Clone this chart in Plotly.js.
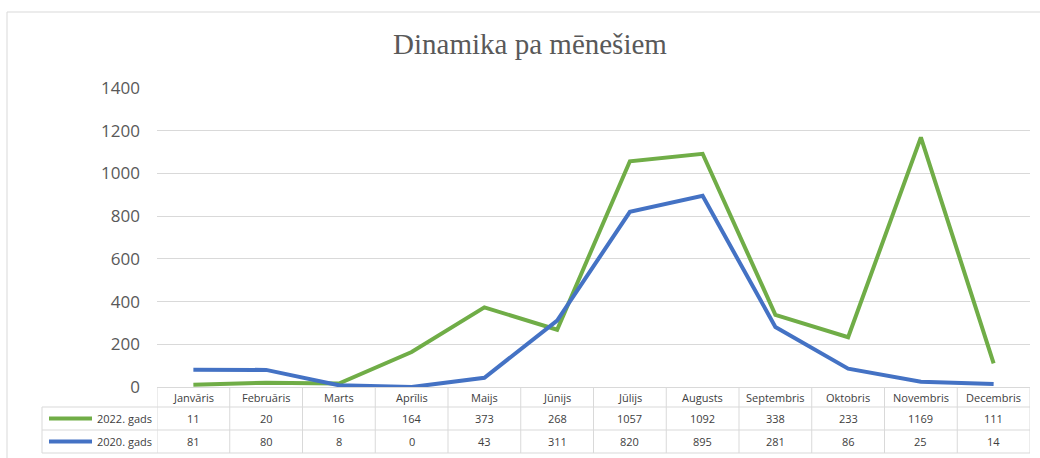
<!DOCTYPE html>
<html>
<head>
<meta charset="utf-8">
<script src="https://cdn.plot.ly/plotly-3.0.1.min.js"></script>
<style>
html,body{margin:0;padding:0;background:#fff;}
#chart{width:1040px;height:458px;}
</style>
</head>
<body>
<div id="chart"></div>
<script>
var categories = ['Janvāris','Februāris','Marts','Aprīlis','Maijs','Jūnijs','Jūlijs','Augusts','Septembris','Oktobris','Novembris','Decembris'];
var series2022 = [11,20,16,164,373,268,1057,1092,338,233,1169,111];
var series2020 = [81,80,8,0,43,311,820,895,281,86,25,14];
var seriesNames = ['2022. gads','2020. gads'];
var yTicks = [0,200,400,600,800,1000,1200,1400];

var W = 1040, H = 458;
var M = {l:157, r:10, t:88, b:71};
var plotW = W - M.l - M.r, plotH = H - M.t - M.b;
function py(p){ return (H - M.b - p) / plotH; }   // pixel y -> paper y
function px(p){ return (p - M.l) / plotW; }       // pixel x -> paper x

var green = '#70AD47', blue = '#4472C4';
var gridCol = '#d9d9d9', textCol = '#595959', tableText = '#404040';
var tblFont = {family:'Open Sans, Liberation Sans, sans-serif', size:11, color:tableText};

var traces = [
  {x: categories, y: series2022, name: seriesNames[0], type:'scatter', mode:'lines',
   line:{color:green, width:4, shape:'linear'}, hoverinfo:'x+y'},
  {x: categories, y: series2020, name: seriesNames[1], type:'scatter', mode:'lines',
   line:{color:blue, width:4, shape:'linear'}, hoverinfo:'x+y'}
];

var rowY = [py(387), py(407), py(430), py(453)];
var shapes = [];
var annotations = [];
var tblLeft = px(42);

// outer chart border
shapes.push({type:'rect', xref:'paper', yref:'paper', x0:px(7), x1:px(1060), y0:py(480), y1:py(12),
  line:{color:'#d9d9d9', width:1}, fillcolor:'rgba(0,0,0,0)', layer:'below'});

// horizontal table lines
[1,2,3].forEach(function(i){
  shapes.push({type:'line', xref:'paper', yref:'paper', x0:tblLeft, x1:1, y0:rowY[i], y1:rowY[i],
    line:{color:gridCol, width:1}});
});
// vertical table lines at category boundaries
for (var i = 0; i <= categories.length; i++) {
  shapes.push({type:'line', xref:'x', yref:'paper', x0:i-0.5, x1:i-0.5, y0:rowY[0], y1:rowY[3],
    line:{color:gridCol, width:1}});
}
// left border of legend cell
shapes.push({type:'line', xref:'paper', yref:'paper', x0:tblLeft, x1:tblLeft, y0:rowY[1], y1:rowY[3],
  line:{color:gridCol, width:1}});

// category header labels and values
var rows = [series2022, series2020];
categories.forEach(function(c, i){
  annotations.push({x:c, xref:'x', y:(rowY[0]+rowY[1])/2, yref:'paper', text:c, showarrow:false,
    font:tblFont, xanchor:'center', yanchor:'middle'});
  rows.forEach(function(r, k){
    annotations.push({x:c, xref:'x', y:(rowY[k+1]+rowY[k+2])/2, yref:'paper', text:String(r[i]), showarrow:false,
      font:tblFont, xanchor:'center', yanchor:'middle'});
  });
});
// legend keys in table
var keyCols = [green, blue];
seriesNames.forEach(function(n, k){
  var yc = (rowY[k+1]+rowY[k+2])/2;
  shapes.push({type:'line', xref:'paper', yref:'paper', x0:px(49), x1:px(92), y0:yc, y1:yc,
    line:{color:keyCols[k], width:4}});
  annotations.push({x:px(154), xref:'paper', y:yc, yref:'paper', text:n, showarrow:false,
    font:tblFont, xanchor:'right', yanchor:'middle'});
});

var layout = {
  width: W, height: H,
  margin: M,
  paper_bgcolor:'#ffffff', plot_bgcolor:'#ffffff',
  showlegend:false,
  title:{text:'Dinamika pa mēnešiem', x:530/W, xref:'container', xanchor:'center', y:py(47), yref:'paper', yanchor:'middle',
    font:{family:'Liberation Serif, DejaVu Serif, serif', size:29, color:textCol}},
  xaxis:{type:'category', categoryarray:categories, range:[-0.5, categories.length-0.5],
    showticklabels:false, showgrid:false, zeroline:false, showline:true, linecolor:gridCol, linewidth:1, ticks:''},
  yaxis:{range:[0,1400], tickvals:yTicks, showgrid:true, gridcolor:gridCol, gridwidth:1, zeroline:false,
    showline:false, ticks:'', ticklabelstandoff:16,
    tickfont:{family:'Open Sans, Liberation Sans, sans-serif', size:17, color:textCol}},
  shapes: shapes,
  annotations: annotations
};

Plotly.newPlot('chart', traces, layout, {displayModeBar:false, staticPlot:true});
</script>
</body>
</html>
